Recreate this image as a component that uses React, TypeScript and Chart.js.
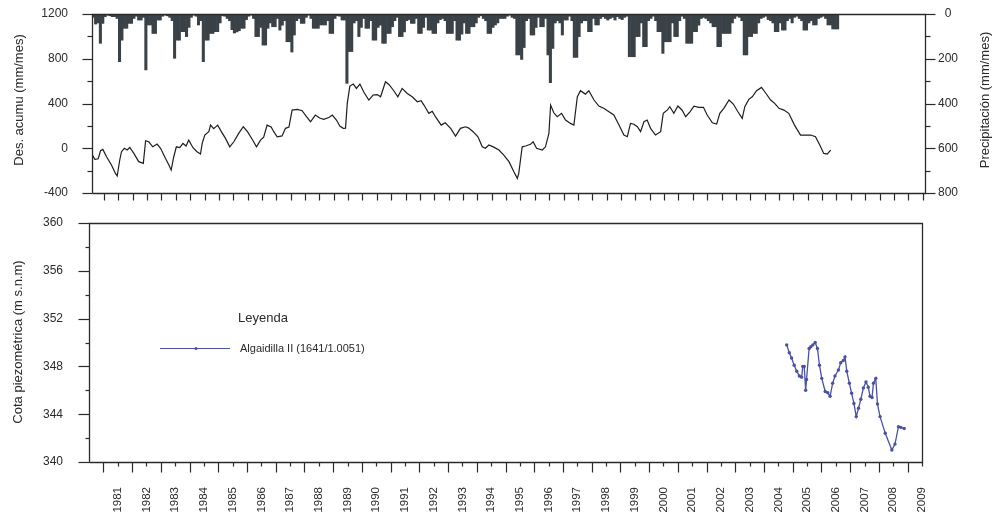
import { useEffect, useRef } from 'react';
import { Chart, registerables } from 'chart.js';

Chart.register(...registerables);

const FONT = '"Liberation Sans", Arial, sans-serif';
const INK = '#2a2a2a';
const BAR_COLOR = '#3a4247';
const LINE_COLOR = '#1e1e1e';
const PIEZO_COLOR = '#4a50a2';

// Monthly precipitation (mm/mes), consecutive months starting February 1980
const precipFirstMonth = 1980 + 1 / 12;
const precipMonthly = [
  15, 45, 40, 131, 42, 12, 5, 8, 12, 12, 20, 213,
  117, 64, 64, 42, 42, 20, 10, 27, 27, 15, 250, 49,
  49, 87, 87, 27, 27, 10, 5, 8, 15, 30, 198, 117,
  117, 79, 79, 101, 60, 15, 5, 10, 49, 30, 213, 117,
  117, 87, 87, 79, 79, 40, 8, 10, 20, 30, 70, 85,
  80, 75, 64, 64, 25, 10, 5, 20, 101, 101, 60, 139,
  139, 64, 40, 57, 57, 20, 72, 50, 30, 124, 124, 170,
  94, 30, 20, 42, 42, 15, 5, 20, 64, 64, 64, 49,
  49, 49, 30, 87, 87, 20, 8, 10, 27, 27, 310, 168,
  168, 40, 30, 101, 60, 20, 64, 64, 30, 117, 117, 60,
  50, 131, 131, 87, 87, 57, 30, 15, 101, 101, 80, 30,
  25, 42, 42, 20, 87, 87, 60, 15, 72, 72, 87, 87,
  40, 25, 20, 30, 87, 87, 87, 30, 117, 117, 90, 40,
  87, 87, 57, 57, 40, 15, 8, 20, 30, 87, 87, 60,
  49, 40, 20, 20, 20, 10, 5, 15, 20, 183, 183, 203,
  150, 30, 20, 94, 94, 60, 15, 57, 57, 20, 183, 307,
  154, 40, 30, 40, 94, 27, 27, 10, 30, 194, 194, 101,
  40, 30, 30, 79, 79, 20, 49, 49, 20, 12, 20, 27,
  20, 15, 27, 12, 20, 25, 15, 10, 191, 191, 191, 101,
  101, 40, 146, 146, 30, 20, 10, 30, 79, 79, 176, 124,
  124, 124, 40, 101, 101, 30, 10, 20, 131, 131, 131, 79,
  79, 50, 20, 15, 20, 30, 40, 57, 57, 146, 146, 87,
  87, 87, 87, 40, 20, 10, 15, 30, 183, 183, 101, 101,
  87, 87, 40, 20, 15, 10, 25, 30, 40, 79, 79, 40,
  72, 72, 30, 20, 40, 15, 10, 20, 30, 72, 72, 40,
  30, 49, 49, 20, 15, 10, 20, 49, 49, 67, 67, 67,
];

// Accumulated deviation from mean rainfall (mm/mes)
const desYears = [
  1980.10, 1980.18, 1980.30, 1980.38, 1980.46, 1980.59, 1980.76, 1980.90, 1980.96, 1981.05,
  1981.11, 1981.21, 1981.31, 1981.40, 1981.54, 1981.71, 1981.87, 1981.95, 1982.06, 1982.20,
  1982.35, 1982.47, 1982.64, 1982.76, 1982.84, 1982.93, 1983.02, 1983.14, 1983.25, 1983.36,
  1983.45, 1983.60, 1983.74, 1983.86, 1983.92, 1984.01, 1984.15, 1984.21, 1984.32, 1984.46,
  1984.56, 1984.73, 1984.88, 1985.02, 1985.19, 1985.35, 1985.49, 1985.66, 1985.81, 1985.95,
  1986.06, 1986.18, 1986.32, 1986.41, 1986.53, 1986.70, 1986.82, 1986.94, 1987.05, 1987.23,
  1987.40, 1987.55, 1987.69, 1987.86, 1988.01, 1988.15, 1988.33, 1988.45, 1988.60, 1988.71,
  1988.83, 1988.91, 1988.97, 1989.06, 1989.18, 1989.29, 1989.41, 1989.55, 1989.72, 1989.87,
  1990.01, 1990.13, 1990.30, 1990.42, 1990.59, 1990.73, 1990.88, 1991.06, 1991.23, 1991.41,
  1991.54, 1991.64, 1991.81, 1991.93, 1992.04, 1992.24, 1992.38, 1992.57, 1992.74, 1992.91,
  1993.09, 1993.20, 1993.35, 1993.52, 1993.67, 1993.78, 1993.90, 1994.07, 1994.25, 1994.42,
  1994.60, 1994.77, 1994.89, 1994.94, 1995.06, 1995.18, 1995.35, 1995.44, 1995.56, 1995.76,
  1995.87, 1995.99, 1996.05, 1996.16, 1996.28, 1996.43, 1996.57, 1996.74, 1996.86, 1996.98,
  1997.09, 1997.26, 1997.38, 1997.56, 1997.73, 1997.90, 1998.08, 1998.25, 1998.43, 1998.60,
  1998.72, 1998.83, 1998.95, 1999.07, 1999.18, 1999.30, 1999.41, 1999.53, 1999.70, 1999.88,
  1999.97, 2000.11, 2000.20, 2000.34, 2000.48, 2000.63, 2000.75, 2000.90, 2001.04, 2001.21,
  2001.37, 2001.50, 2001.68, 2001.83, 2001.94, 2002.08, 2002.26, 2002.41, 2002.57, 2002.72,
  2002.81, 2002.95, 2003.07, 2003.22, 2003.39, 2003.53, 2003.71, 2003.85, 2004.00, 2004.17,
  2004.34, 2004.54, 2004.75, 2004.93, 2005.10, 2005.27, 2005.42, 2005.56, 2005.68, 2005.80,
];
const desValues = [
  -61, -99, -94, -22, -10, -76, -150, -225, -248, -105,
  -31, 0, -16, 8, -46, -120, -135, 67, 58, 13,
  37, 0, -90, -150, -195, -76, 13, 5, 43, 20,
  73, 5, -31, -52, 44, 118, 148, 207, 175, 207,
  160, 88, 13, 58, 133, 192, 150, 80, 13, 73,
  100, 207, 190, 148, 103, 110, 178, 190, 341, 347,
  335, 282, 237, 297, 270, 258, 275, 297, 250, 198,
  178, 180, 401, 556, 574, 535, 574, 500, 431, 476,
  480, 460, 594, 570, 514, 460, 535, 490, 460, 416,
  425, 386, 312, 330, 282, 207, 228, 178, 109, 178,
  192, 180, 148, 103, 13, 0, 29, 10, -16, -61,
  -120, -210, -269, -225, 13, 20, 35, 58, 0, -16,
  13, 133, 386, 317, 282, 312, 252, 222, 207, 460,
  514, 484, 514, 431, 377, 357, 326, 297, 207, 118,
  103, 222, 215, 192, 148, 237, 252, 178, 118, 148,
  312, 341, 371, 312, 377, 340, 282, 326, 377, 366,
  366, 297, 228, 216, 312, 357, 431, 395, 326, 267,
  371, 437, 460, 514, 544, 496, 431, 401, 357, 341,
  312, 207, 118, 118, 118, 103, 29, -46, -52, -16,
];

// Piezometric level (m s.n.m)
const pzYears = [
  2004.29, 2004.38, 2004.46, 2004.55, 2004.64, 2004.73, 2004.81, 2004.85, 2004.90, 2004.95,
  2004.98, 2005.07, 2005.13, 2005.20, 2005.28, 2005.36, 2005.43, 2005.51, 2005.63, 2005.72,
  2005.80, 2005.89, 2005.97, 2006.09, 2006.17, 2006.26, 2006.32, 2006.38, 2006.47, 2006.55,
  2006.63, 2006.71, 2006.79, 2006.87, 2006.96, 2007.05, 2007.13, 2007.19, 2007.26, 2007.31,
  2007.39, 2007.45, 2007.54, 2007.72, 2007.95, 2008.06, 2008.18, 2008.26, 2008.38,
];
const pzLevels = [
  349.8, 349.15, 348.7, 348.1, 347.6, 347.2, 347.1, 348.0, 348.0, 346.0,
  346.9, 349.5, 349.65, 349.8, 350.0, 349.5, 348.1, 347.0, 345.9, 345.8,
  345.5, 346.6, 347.2, 347.7, 348.3, 348.5, 348.8, 347.6, 346.6, 345.75,
  344.9, 343.8, 344.5, 345.25, 346.2, 346.7, 346.25, 345.5, 345.4, 346.6,
  347.0, 344.85, 343.8, 342.4, 341.0, 341.5, 342.95, 342.9, 342.8,
];

const seriesName = 'Algaidilla II (1641/1.0051)';
const legendTitle = 'Leyenda';

type TickSpec = { axis: string; from: number; to: number; step: number; major: number; majorLen: number; minorLen: number };
type TitleSpec = { text: string; x: number; y: number };

// Draws the plot frame, outward major/minor tick marks and rotated axis titles
const frameAndTicks = {
  id: 'frameAndTicks',
  afterDraw(chart: any, _args: any, opts: any) {
    const { ctx, chartArea: a } = chart;
    ctx.save();
    ctx.strokeStyle = INK;
    ctx.lineWidth = 1.3;
    const L = Math.round(a.left) + 0.5;
    const R = Math.round(a.right) + 0.5;
    const T = Math.round(a.top) + 0.5;
    const B = Math.round(a.bottom) + 0.5;
    ctx.beginPath();
    ctx.moveTo(L, B);
    ctx.lineTo(L, T);
    ctx.lineTo(R, T);
    ctx.lineTo(R, B);
    ctx.lineTo(L, B);
    ctx.stroke();

    ctx.lineWidth = 1.2;
    (opts.ticks as TickSpec[]).forEach((m) => {
      const s = chart.scales[m.axis];
      const n = Math.round((m.to - m.from) / m.step);
      for (let k = 0; k <= n; k++) {
        const v = m.from + k * m.step;
        const q = (v - m.from) / m.major;
        const len = Math.abs(q - Math.round(q)) < 1e-6 ? m.majorLen : m.minorLen;
        const p = Math.round(s.getPixelForValue(v)) + 0.5;
        ctx.beginPath();
        if (s.position === 'left') {
          ctx.moveTo(L, p);
          ctx.lineTo(L - len, p);
        } else if (s.position === 'right') {
          ctx.moveTo(R, p);
          ctx.lineTo(R + len, p);
        } else {
          ctx.moveTo(p, B);
          ctx.lineTo(p, B + len);
        }
        ctx.stroke();
      }
    });

    ctx.fillStyle = INK;
    ctx.font = `13px ${FONT}`;
    ctx.textAlign = 'center';
    ctx.textBaseline = 'middle';
    (opts.titles as TitleSpec[]).forEach((t) => {
      ctx.save();
      ctx.translate(t.x, t.y);
      ctx.rotate(-Math.PI / 2);
      ctx.fillText(t.text, 0, 0);
      ctx.restore();
    });
    ctx.restore();
  },
};

// Key drawn inside the lower plot
const keyBox = {
  id: 'keyBox',
  afterDraw(chart: any, _args: any, opts: any) {
    if (!opts.show) return;
    const { ctx } = chart;
    ctx.save();
    ctx.fillStyle = INK;
    ctx.textBaseline = 'middle';
    ctx.textAlign = 'left';
    ctx.font = `13px ${FONT}`;
    ctx.fillText(legendTitle, opts.x + 78, opts.y - 30);
    ctx.strokeStyle = PIEZO_COLOR;
    ctx.lineWidth = 1.2;
    ctx.beginPath();
    ctx.moveTo(opts.x, opts.y + 0.5);
    ctx.lineTo(opts.x + 70, opts.y + 0.5);
    ctx.stroke();
    ctx.fillStyle = PIEZO_COLOR;
    ctx.beginPath();
    ctx.arc(opts.x + 36, opts.y + 0.5, 1.6, 0, Math.PI * 2);
    ctx.fill();
    ctx.fillStyle = INK;
    ctx.font = `11px ${FONT}`;
    ctx.fillText(seriesName, opts.x + 80, opts.y + 1);
    ctx.restore();
  },
};

const tickFont = { family: FONT, size: 12 };

// Keep vertical axes from reserving extra room above/below the plot
const fixWidth = (w: number) => (s: any) => {
  s.width = w;
  s.paddingTop = 0;
  s.paddingBottom = 0;
};

function RainChart() {
  const ref = useRef<HTMLCanvasElement>(null);
  useEffect(() => {
    const bars = precipMonthly.map((v, i) => ({ x: precipFirstMonth + (i + 0.5) / 12, y: v }));
    const line = desYears.map((x, i) => ({ x, y: desValues[i] }));
    const chart = new Chart(ref.current as HTMLCanvasElement, {
      type: 'bar',
      data: {
        datasets: [
          {
            type: 'line',
            data: line,
            yAxisID: 'y',
            borderColor: LINE_COLOR,
            borderWidth: 1.2,
            pointRadius: 0,
            tension: 0,
          } as any,
          {
            type: 'bar',
            data: bars,
            yAxisID: 'yP',
            backgroundColor: BAR_COLOR,
            borderWidth: 0,
            barPercentage: 1,
            categoryPercentage: 1,
          } as any,
        ],
      },
      options: {
        responsive: false,
        animation: false,
        layout: { padding: { top: 14, left: 0, right: 0, bottom: 0 } },
        plugins: {
          legend: { display: false },
          tooltip: { enabled: false },
          frameAndTicks: {
            ticks: [
              { axis: 'x', from: 1980.5, to: 2009, step: 0.5, major: 1, majorLen: 7, minorLen: 7 },
              { axis: 'y', from: -400, to: 1200, step: 200, major: 400, majorLen: 10, minorLen: 5 },
              { axis: 'yP', from: 0, to: 800, step: 100, major: 200, majorLen: 10, minorLen: 5 },
            ],
            titles: [
              { text: 'Des. acumu (mm/mes)', x: 19, y: 100 },
              { text: 'Precipitación (mm/mes)', x: 985, y: 100 },
            ],
          },
        } as any,
        scales: {
          x: {
            type: 'linear',
            min: 1980 + 1 / 12,
            max: 2009 + 1 / 12,
            offset: false,
            grid: { display: false, drawTicks: false },
            border: { display: false },
            ticks: { display: false },
            afterFit: (s: any) => { s.height = 17; s.paddingLeft = 0; s.paddingRight = 0; },
          },
          y: {
            position: 'left',
            min: -400,
            max: 1200,
            grid: { display: false, drawTicks: false },
            border: { display: false },
            ticks: { stepSize: 400, padding: 24, color: INK, font: tickFont, callback: (v: any) => String(v) },
            afterFit: fixWidth(92),
          },
          yP: {
            position: 'right',
            min: 0,
            max: 800,
            reverse: true,
            grid: { display: false, drawTicks: false },
            border: { display: false },
            ticks: { stepSize: 200, padding: 13, crossAlign: 'center', color: INK, font: tickFont, callback: (v: any) => String(v) },
            afterFit: fixWidth(70),
          },
        } as any,
      },
      plugins: [frameAndTicks],
    });
    return () => chart.destroy();
  }, []);
  return <canvas ref={ref} width={995} height={210} style={{ position: 'absolute', left: 0, top: 0 }} />;
}

function PiezoChart() {
  const ref = useRef<HTMLCanvasElement>(null);
  useEffect(() => {
    const pts = pzYears.map((x, i) => ({ x, y: pzLevels[i] }));
    const chart = new Chart(ref.current as HTMLCanvasElement, {
      type: 'line',
      data: {
        datasets: [
          {
            data: pts,
            borderColor: PIEZO_COLOR,
            borderWidth: 1.3,
            pointRadius: 1.7,
            pointBackgroundColor: PIEZO_COLOR,
            pointBorderWidth: 0,
            tension: 0,
          },
        ],
      },
      options: {
        responsive: false,
        animation: false,
        layout: { padding: { top: 13, left: 0, right: 73, bottom: 0 } },
        plugins: {
          legend: { display: false },
          tooltip: { enabled: false },
          frameAndTicks: {
            ticks: [
              { axis: 'x', from: 1980.5, to: 2009, step: 0.5, major: 1, majorLen: 10, minorLen: 4 },
              { axis: 'y', from: 340, to: 360, step: 2, major: 4, majorLen: 11, minorLen: 4 },
            ],
            titles: [{ text: 'Cota piezométrica (m s.n.m)', x: 18, y: 132 }],
          },
          keyBox: { show: true, x: 160, y: 138 },
        } as any,
        scales: {
          x: {
            type: 'linear',
            min: 1980,
            max: 2009,
            grid: { display: false, drawTicks: false },
            border: { display: false },
            ticks: {
              stepSize: 1,
              autoSkip: false,
              minRotation: 90,
              maxRotation: 90,
              padding: 25,
              color: INK,
              font: { family: FONT, size: 11.5 },
              callback: (v: any) => (v === 1980 ? '' : String(v)),
            },
            afterFit: (s: any) => { s.height = 56; s.paddingLeft = 0; s.paddingRight = 0; },
          },
          y: {
            min: 340,
            max: 360,
            grid: { display: false, drawTicks: false },
            border: { display: false },
            ticks: { stepSize: 4, padding: 26, color: INK, font: tickFont, callback: (v: any) => String(v) },
            afterFit: fixWidth(89),
          },
        } as any,
      },
      plugins: [frameAndTicks, keyBox],
    });
    return () => chart.destroy();
  }, []);
  return <canvas ref={ref} width={995} height={308} style={{ position: 'absolute', left: 0, top: 210 }} />;
}

export default function App() {
  return (
    <div style={{ position: 'absolute', left: 0, top: 0, width: 995, height: 518, background: '#fff' }}>
      <RainChart />
      <PiezoChart />
    </div>
  );
}
